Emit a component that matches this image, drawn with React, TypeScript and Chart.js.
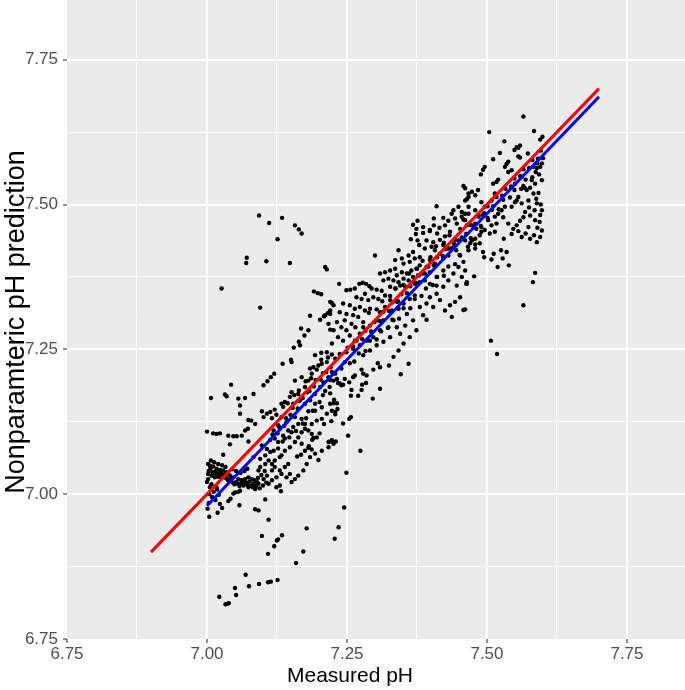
import React, { useEffect, useRef } from 'react';
import { Chart, registerables } from 'chart.js';

Chart.register(...registerables);

const xTitle = 'Measured pH';
const yTitle = 'Nonparamteric pH prediction';

const majorTicks = [6.75, 7.0, 7.25, 7.5, 7.75];
const minorTicks = [6.875, 7.125, 7.375, 7.625];

const identityLine: [number, number][] = [[6.9, 6.9], [7.7, 7.7]];
const fitLine: [number, number][] = [[7.0, 6.98], [7.7, 7.686]];

const lowOutliers: [number, number][] = [
  [7.004,6.961],[7.019,6.968],[7.023,6.983],[7.027,6.976],[7.038,6.988],[7.042,6.992],[7.047,7.001],[7.050,7.003],
  [7.056,7.004],[7.059,7.006],[7.058,6.981],[7.086,6.974],[7.092,6.972],[7.104,6.991],[7.132,7.005],[7.110,6.956],
  [7.098,6.928],[7.134,6.929],[7.127,6.922],[7.125,6.920],[7.120,6.910],[7.109,6.897],[7.178,6.941],[7.172,6.901],
  [7.159,6.881],[7.228,6.923],[7.069,6.861],[7.126,6.852],[7.114,6.849],[7.109,6.848],[7.093,6.845],[7.075,6.841],
  [7.050,6.838],[7.052,6.826],[7.022,6.823],[7.033,6.810],[7.037,6.811],[7.039,6.812],[7.245,6.977],[7.235,6.943]
];

const upperOutliers: [number, number][] = [
  [7.093,7.481],[7.111,7.468],[7.134,7.477],[7.157,7.464],[7.164,7.457],[7.169,7.450],[7.126,7.440],[7.071,7.408],
  [7.070,7.399],[7.106,7.402],[7.148,7.399],[7.211,7.392],[7.214,7.388],[7.026,7.355],[7.095,7.322],[7.191,7.350],
  [7.198,7.347],[7.204,7.345],[7.223,7.330],[7.220,7.317],[7.216,7.313],[7.211,7.309],[7.184,7.308],[7.202,7.301],
  [7.209,7.307],[7.217,7.294],[7.220,7.284],[7.168,7.286],[7.181,7.283],[7.174,7.274],[7.164,7.263],[7.166,7.257],
  [7.155,7.253],[7.150,7.232],[7.193,7.240],[7.204,7.244],[7.214,7.245],[7.223,7.241]
];

const lowBand: [number, number][] = [
  [7.135,7.225],[7.151,7.228],[7.120,7.208],[7.114,7.202],[7.108,7.195],[7.101,7.188],[7.043,7.189],[7.007,7.166],
  [7.032,7.172],[7.035,7.169],[7.056,7.165],[7.068,7.166],[7.083,7.173],[7.059,7.153],[7.059,7.139],[7.074,7.128],
  [7.079,7.127],[7.086,7.121],[7.098,7.143],[7.107,7.139],[7.113,7.142],[7.121,7.146],[7.101,7.133],[7.000,7.108],
  [7.011,7.105],[7.017,7.104],[7.023,7.105],[7.038,7.101],[7.047,7.100],[7.053,7.100],[7.062,7.101],[7.068,7.110],
  [7.073,7.113],[7.074,7.091],[7.041,7.086],[7.029,7.068],[7.098,7.084],[7.107,7.078],[7.113,7.073],[7.119,7.075],
  [7.083,7.064],[7.095,7.061],[7.104,7.067],[7.002,7.052],[7.005,7.049],[7.008,7.047],[7.011,7.048],[7.017,7.044],
  [7.023,7.042],[7.029,7.041],[7.035,7.038],[7.038,7.035],[7.002,7.035],[7.008,7.032],[7.014,7.029],[7.020,7.030],
  [7.026,7.028],[7.000,7.021],[7.008,7.017],[7.017,7.012],[7.041,7.032],[7.047,7.029],[7.056,7.026],[7.062,7.024],
  [7.068,7.026],[7.074,7.029],[7.080,7.026],[7.065,7.015],[7.074,7.012],[7.083,7.018],[7.089,7.021],[7.092,7.041],
  [7.095,7.047],[7.104,7.052],[7.110,7.058],[7.116,7.052],[7.133,7.067],[7.130,7.041],[7.139,7.047],[7.145,7.052],
  [7.157,7.026],[7.148,7.035],[7.199,7.059],[7.175,7.075],[7.181,7.080],[7.187,7.077],[7.217,7.090],[7.223,7.093],
  [7.190,7.097],[7.196,7.098],[7.169,7.107],[7.175,7.113],[7.181,7.110],[7.187,7.104],[7.124,7.012],[7.130,7.015],
  [7.157,7.196],[7.169,7.202],[7.184,7.217],[7.190,7.219],[7.199,7.222],[7.205,7.225],[7.214,7.228],[7.187,7.208],
  [7.181,7.196],[7.175,7.185],[7.163,7.173],[7.151,7.176],[7.148,7.168],[7.139,7.159],[7.133,7.156],[7.154,7.156],
  [7.166,7.162],[7.175,7.156],[7.184,7.162],[7.193,7.173],[7.202,7.185],[7.208,7.193],[7.217,7.202],[7.223,7.211],
  [7.193,7.144],[7.205,7.150],[7.214,7.139],[7.220,7.156],[7.205,7.130],[7.196,7.127],[7.187,7.121],[7.175,7.121],
  [7.169,7.130],[7.157,7.133],[7.142,7.124],[7.133,7.133],[7.127,7.119],[7.119,7.110],[7.121,7.096],[7.127,7.090],
  [7.136,7.101],[7.145,7.110],[7.154,7.116],[7.163,7.098],[7.169,7.087],[7.157,7.090],[7.148,7.081],[7.139,7.075],
  [7.130,7.064],[7.121,7.058],[7.121,7.047],[7.116,7.041],[7.107,7.032],[7.101,7.026],[7.092,7.018],[7.086,7.009],
  [7.110,7.018],[7.116,7.024],[7.124,7.029],[7.133,7.035],[7.142,7.029],[7.151,7.021],[7.163,7.032],[7.172,7.041],
  [7.178,7.052],[7.184,7.064],[7.193,7.070],[7.205,7.075],[7.217,7.081],[7.226,7.087]
];

const lowBlob: [number, number][] = [
  [7.003,7.040],[7.006,7.044],[7.010,7.038],[7.013,7.035],[7.016,7.040],[7.019,7.036],[7.022,7.033],[7.025,7.037],
  [7.028,7.031],[7.031,7.034],[7.034,7.028],[7.037,7.025],[7.040,7.022],[7.043,7.026],[7.046,7.020],[7.049,7.017],
  [7.052,7.021],[7.055,7.018],[7.058,7.014],[7.061,7.019],[7.064,7.022],[7.067,7.017],[7.070,7.020],[7.073,7.016],
  [7.076,7.022],[7.079,7.015],[7.082,7.012],[7.085,7.024],[7.088,7.014],[7.091,7.028],[7.094,7.010],[7.097,7.033],
  [7.100,7.015],[7.103,7.040],[7.106,7.020],[7.002,7.026],[7.005,7.012],[7.004,7.000],[7.009,6.995],[7.012,7.004],
  [7.015,6.990],[7.018,7.008],[7.021,6.999],[7.003,6.985],[7.001,6.975],[7.007,7.058],[7.013,7.055],[7.020,7.052],
  [7.027,7.050],[7.033,7.047],[7.045,7.043],[7.052,7.040],[7.060,7.037],[7.067,7.040],[7.072,7.044]
];

const midBand: [number, number][] = [
  [7.255,7.226],[7.276,7.215],[7.279,7.208],[7.285,7.205],[7.264,7.205],[7.261,7.202],[7.297,7.215],[7.305,7.226],
  [7.309,7.219],[7.325,7.222],[7.360,7.225],[7.346,7.207],[7.309,7.182],[7.296,7.165],[7.284,7.192],[7.277,7.189],
  [7.276,7.180],[7.270,7.170],[7.257,7.170],[7.258,7.180],[7.254,7.193],[7.246,7.199],[7.237,7.191],[7.240,7.188],
  [7.234,7.192],[7.243,7.189],[7.232,7.199],[7.226,7.196],[7.220,7.197],[7.227,7.163],[7.232,7.157],[7.226,7.157],
  [7.223,7.144],[7.229,7.142],[7.233,7.147],[7.220,7.174],[7.257,7.133],[7.254,7.130],[7.243,7.122],[7.252,7.101],
  [7.274,7.075],[7.230,7.091],[7.220,7.091],[7.249,7.037],[7.240,7.217],[7.229,7.208],[7.246,7.228],
  [7.373,7.449],[7.386,7.451],[7.398,7.454],[7.411,7.450],[7.425,7.445],[7.434,7.453],[7.392,7.438],[7.404,7.435],
  [7.416,7.439],[7.376,7.438],[7.364,7.440],[7.379,7.430],[7.389,7.424],[7.401,7.427],[7.407,7.421],[7.422,7.430],
  [7.431,7.424],[7.441,7.432],[7.449,7.438],[7.455,7.443],[7.445,7.421],[7.452,7.412],[7.431,7.412],[7.416,7.415],
  [7.422,7.407],[7.300,7.412],[7.342,7.421],[7.336,7.404],[7.348,7.407],[7.351,7.398],[7.362,7.401],[7.371,7.407],
  [7.368,7.418],[7.360,7.412],[7.380,7.409],[7.398,7.404],[7.407,7.398],[7.392,7.392],[7.380,7.395],
  [7.309,7.381],[7.318,7.383],[7.327,7.386],[7.336,7.389],[7.339,7.378],[7.348,7.383],[7.357,7.381],[7.365,7.386],
  [7.374,7.389],[7.315,7.369],[7.324,7.372],[7.333,7.369],[7.342,7.366],[7.351,7.372],[7.360,7.369],[7.368,7.375],
  [7.377,7.378],[7.327,7.358],[7.336,7.355],[7.345,7.360],[7.354,7.358],[7.362,7.360],[7.371,7.363],[7.380,7.366],
  [7.386,7.381],[7.398,7.383],[7.410,7.375],[7.422,7.386],[7.389,7.369],
  [7.236,7.363],[7.249,7.352],[7.256,7.353],[7.264,7.355],[7.272,7.363],[7.278,7.365],[7.284,7.363],[7.290,7.359],
  [7.294,7.355],[7.303,7.353],[7.312,7.351],[7.282,7.346],[7.267,7.340],[7.276,7.337],[7.288,7.335],[7.297,7.340],
  [7.306,7.337],[7.243,7.329],[7.220,7.332],[7.226,7.326],[7.255,7.326],[7.264,7.320],[7.273,7.323],[7.282,7.317],
  [7.291,7.320],[7.237,7.314],[7.249,7.311],[7.261,7.309],[7.270,7.306],[7.220,7.311],[7.318,7.343],[7.327,7.335],
  [7.339,7.332],[7.318,7.323],[7.330,7.317],[7.309,7.314],[7.342,7.320],[7.351,7.329],[7.362,7.337],[7.371,7.343],
  [7.357,7.311],
  [7.232,7.297],[7.240,7.288],[7.249,7.283],[7.226,7.283],[7.234,7.271],[7.243,7.265],[7.255,7.274],[7.264,7.265],
  [7.273,7.277],[7.279,7.288],[7.291,7.291],[7.285,7.265],[7.273,7.257],[7.261,7.251],[7.249,7.245],[7.237,7.242],
  [7.229,7.234],[7.223,7.260],[7.297,7.271],[7.309,7.283],[7.315,7.300],[7.303,7.257],[7.291,7.248],[7.279,7.240],
  [7.303,7.300],[7.324,7.288],[7.333,7.300],[7.339,7.288],[7.327,7.271],[7.315,7.263],[7.345,7.277],[7.354,7.291],
  [7.258,7.294],[7.246,7.300],
  [7.431,7.369],[7.422,7.358],[7.410,7.346],[7.398,7.340],[7.392,7.329],[7.404,7.323],[7.416,7.335],[7.425,7.317],
  [7.434,7.326],[7.443,7.332],[7.452,7.340],[7.458,7.318],[7.464,7.363],[7.437,7.306],[7.386,7.309],[7.392,7.301],
  [7.380,7.323],[7.368,7.300],[7.374,7.283],[7.362,7.271],[7.351,7.260],[7.342,7.248],[7.333,7.237],[7.398,7.363],
  [7.410,7.360],[7.440,7.381],[7.449,7.392],[7.458,7.401],[7.461,7.386],[7.455,7.375],[7.446,7.360]
];

const lineBandLow: [number, number][] = [
  [7.113,7.094],[7.117,7.103],[7.126,7.105],[7.129,7.116],[7.138,7.118],[7.141,7.131],[7.149,7.137],[7.153,7.149],
  [7.162,7.148],[7.165,7.161],[7.171,7.166],[7.179,7.176],[7.183,7.178],[7.191,7.186],[7.194,7.197],[7.203,7.198],
  [7.207,7.209],[7.213,7.211],[7.221,7.219],[7.127,7.079],[7.135,7.091],[7.139,7.096],[7.147,7.098],[7.151,7.107],
  [7.159,7.109],[7.163,7.121],[7.171,7.122],[7.177,7.131],[7.181,7.143],[7.189,7.144],[7.193,7.156],[7.201,7.159],
  [7.207,7.171],[7.211,7.178],[7.219,7.185],[7.116,7.131],[7.124,7.137],[7.136,7.151],[7.144,7.157],[7.156,7.171],
  [7.164,7.179],[7.176,7.195],[7.186,7.200],[7.196,7.215],[7.204,7.232],[7.216,7.236],[7.161,7.065],[7.168,7.068],
  [7.182,7.083],[7.188,7.094],[7.201,7.105],[7.209,7.121],[7.222,7.126],[7.229,7.138]
];

const lineBandMid: [number, number][] = [
  [7.251,7.253],[7.261,7.255],[7.267,7.265],[7.277,7.268],[7.283,7.282],[7.293,7.281],[7.299,7.297],[7.309,7.299],
  [7.315,7.315],[7.325,7.316],[7.331,7.331],[7.341,7.333],[7.347,7.345],[7.357,7.347],[7.363,7.359],[7.373,7.365],
  [7.379,7.378],[7.389,7.381],[7.395,7.393],[7.405,7.395],[7.411,7.409],[7.421,7.411],[7.427,7.423],[7.437,7.425],
  [7.443,7.439],[7.263,7.229],[7.271,7.243],[7.283,7.247],[7.291,7.265],[7.303,7.267],[7.311,7.281],[7.323,7.287],
  [7.331,7.301],[7.343,7.303],[7.351,7.321],[7.363,7.321],[7.371,7.337],[7.383,7.342],[7.391,7.355],[7.403,7.361],
  [7.411,7.375],[7.423,7.377],[7.431,7.393],[7.443,7.397],[7.451,7.413],[7.265,7.288],[7.279,7.297],[7.289,7.313],
  [7.303,7.319],[7.313,7.333],[7.327,7.342],[7.337,7.355],[7.351,7.361],[7.361,7.381],[7.375,7.389],[7.385,7.403],
  [7.399,7.409],[7.409,7.428],[7.423,7.434],[7.433,7.447]
];

const highBand: [number, number][] = [
  [7.458,7.532],[7.461,7.528],[7.410,7.497],[7.376,7.472],[7.368,7.465],[7.405,7.476],[7.422,7.477],[7.437,7.484],
  [7.449,7.496],[7.464,7.509],[7.467,7.519],[7.431,7.472],[7.415,7.460],[7.405,7.464],[7.446,7.467],[7.458,7.474],
  [7.440,7.490],[7.455,7.487],[7.374,7.458],[7.386,7.461],[7.398,7.456],[7.425,7.464],[7.443,7.476],[7.455,7.479],
  [7.464,7.464],[7.452,7.458],[7.467,7.496],[7.461,7.484],
  [7.565,7.652],[7.504,7.625],[7.584,7.627],[7.599,7.617],[7.595,7.612],[7.531,7.609],[7.559,7.602],[7.553,7.599],
  [7.556,7.598],[7.523,7.589],[7.549,7.594],[7.573,7.588],[7.556,7.583],[7.559,7.581],[7.511,7.578],[7.538,7.574],
  [7.535,7.570],[7.496,7.565],[7.493,7.560],[7.489,7.552],[7.532,7.565],[7.538,7.556],[7.544,7.559],[7.520,7.543],
  [7.517,7.539],[7.511,7.536],[7.583,7.565],[7.590,7.571],[7.595,7.565],[7.598,7.571],[7.587,7.556],[7.593,7.552],
  [7.580,7.542],[7.586,7.536],[7.577,7.529],[7.568,7.528],[7.571,7.525],[7.565,7.532],[7.598,7.542],[7.583,7.519],
  [7.574,7.507],[7.589,7.502],[7.596,7.500],[7.577,7.481],[7.568,7.487],[7.565,7.478],[7.556,7.513],[7.553,7.507],
  [7.550,7.504],[7.532,7.496],[7.526,7.490],[7.520,7.484],[7.529,7.478],[7.538,7.467],[7.547,7.458],[7.559,7.472],
  [7.484,7.525],[7.479,7.516],[7.473,7.522],[7.467,7.513],[7.461,7.507],[7.490,7.504],[7.496,7.496],[7.461,7.473],
  [7.473,7.464],[7.508,7.507],[7.514,7.519],[7.550,7.536],[7.544,7.530],[7.562,7.548],
  [7.467,7.484],[7.479,7.490],[7.485,7.479],[7.493,7.482],[7.502,7.473],[7.508,7.464],[7.490,7.461],[7.514,7.479],
  [7.517,7.467],[7.553,7.464],[7.574,7.461],[7.586,7.473],[7.595,7.482],[7.598,7.490],[7.544,7.496],[7.562,7.502],
  [7.530,7.441],[7.562,7.444],[7.569,7.450],[7.584,7.447],[7.556,7.454],[7.493,7.418],[7.495,7.409],[7.512,7.415],
  [7.508,7.405],[7.525,7.421],[7.535,7.418],[7.528,7.407],[7.519,7.392],[7.539,7.395],[7.477,7.376],[7.464,7.366],
  [7.463,7.363],[7.586,7.382],[7.582,7.366],[7.565,7.326],[7.507,7.265],[7.518,7.242],[7.461,7.319],[7.470,7.433],
  [7.473,7.438],[7.479,7.441],[7.487,7.447],[7.490,7.453],[7.466,7.427],[7.479,7.431],[7.487,7.433],
  [7.496,7.456],[7.505,7.450],[7.514,7.453],[7.544,7.449],[7.577,7.441],[7.589,7.435],[7.595,7.444],[7.461,7.438],
  [7.467,7.421],[7.479,7.424]
];

const lineBandHigh: [number, number][] = [
  [7.463,7.449],[7.469,7.465],[7.479,7.467],[7.485,7.481],[7.495,7.485],[7.501,7.497],[7.511,7.497],[7.517,7.513],
  [7.527,7.515],[7.533,7.527],[7.543,7.531],[7.549,7.545],[7.559,7.549],[7.565,7.561],[7.575,7.563],[7.581,7.577],
  [7.591,7.579],[7.596,7.593],[7.471,7.442],[7.481,7.458],[7.489,7.463],[7.501,7.477],[7.509,7.491],[7.521,7.492],
  [7.529,7.508],[7.541,7.512],[7.549,7.525],[7.561,7.527],[7.569,7.543],[7.581,7.547],[7.589,7.563],[7.592,7.520],
  [7.588,7.510],[7.594,7.470],[7.590,7.460],[7.598,7.455],[7.585,7.490],[7.575,7.495],[7.600,7.580]
];

const pointGroups = [
  lowOutliers, upperOutliers, lowBand, lowBlob, midBand, lineBandLow, lineBandMid, highBand, lineBandHigh,
];

const isMajor = (v: number) => majorTicks.some((m) => Math.abs(m - v) < 1e-6);
const FONT = '"Liberation Sans", Arial, Helvetica, sans-serif';

const panelPlugin = {
  id: 'panelPlugin',
  beforeDraw(chart: any) {
    const { ctx, chartArea } = chart;
    ctx.save();
    ctx.fillStyle = '#EBEBEB';
    ctx.fillRect(chartArea.left, chartArea.top, chartArea.right - chartArea.left, chartArea.bottom - chartArea.top);
    ctx.restore();
  },
  afterDraw(chart: any) {
    const { ctx } = chart;
    ctx.save();
    ctx.fillStyle = '#000000';
    ctx.textAlign = 'center';
    ctx.textBaseline = 'alphabetic';
    ctx.font = `21px ${FONT}`;
    ctx.fillText(xTitle, 350, 682);
    ctx.font = `27px ${FONT}`;
    ctx.translate(24, 322);
    ctx.rotate(-Math.PI / 2);
    ctx.fillText(yTitle, 0, 0);
    ctx.restore();
  },
};

function axisOptions(min: number, max: number, isX: boolean) {
  const allTicks = [...majorTicks, ...minorTicks].sort((a, b) => a - b);
  return {
    type: 'linear' as const,
    min,
    max,
    afterBuildTicks: (scale: any) => {
      scale.ticks = allTicks.filter((v) => v >= min - 1e-9 && v <= max + 1e-9).map((v) => ({ value: v }));
    },
    afterFit: (scale: any) => {
      if (isX) scale.height = 51;
      else scale.width = 67;
      scale.paddingTop = 0;
      scale.paddingBottom = 0;
      scale.paddingLeft = 0;
      scale.paddingRight = 0;
    },
    border: { display: false },
    grid: {
      drawOnChartArea: true,
      drawTicks: true,
      tickLength: 4,
      color: (ctx: any) => {
        const v = ctx.tick ? ctx.tick.value : 0;
        if (Math.abs(v - 6.75) < 1e-6) return 'rgba(0,0,0,0)';
        return '#FFFFFF';
      },
      lineWidth: (ctx: any) => (ctx.tick && isMajor(ctx.tick.value) ? 2 : 1),
      tickColor: (ctx: any) => (ctx.tick && isMajor(ctx.tick.value) ? '#333333' : 'rgba(0,0,0,0)'),
      tickWidth: 1.1,
    },
    ticks: {
      autoSkip: false,
      maxRotation: 0,
      minRotation: 0,
      padding: isX ? 1 : 5,
      color: '#4D4D4D',
      font: { family: FONT, size: 17 },
      callback: (v: any) => (isMajor(Number(v)) ? Number(v).toFixed(2) : ''),
    },
  };
}

export default function App() {
  const canvasRef = useRef<HTMLCanvasElement | null>(null);

  useEffect(() => {
    if (!canvasRef.current) return;
    const points = pointGroups.flat().map(([x, y]) => ({ x, y }));
    const chart = new Chart(canvasRef.current, {
      type: 'scatter',
      data: {
        datasets: [
          {
            type: 'line',
            data: identityLine.map(([x, y]) => ({ x, y })),
            borderColor: '#FF0000',
            borderWidth: 3,
            pointRadius: 0,
            fill: false,
          } as any,
          {
            type: 'line',
            data: fitLine.map(([x, y]) => ({ x, y })),
            borderColor: '#0000FF',
            borderWidth: 3,
            pointRadius: 0,
            fill: false,
          } as any,
          {
            data: points,
            backgroundColor: '#000000',
            borderWidth: 0,
            pointRadius: 2.2,
          },
        ],
      },
      options: {
        animation: false,
        responsive: false,
        maintainAspectRatio: false,
        layout: { padding: 0, autoPadding: false },
        plugins: { legend: { display: false }, tooltip: { enabled: false }, title: { display: false } },
        scales: {
          x: axisOptions(6.75, 7.8536, true),
          y: axisOptions(6.75, 7.853, false),
        },
      },
      plugins: [panelPlugin],
    });
    return () => chart.destroy();
  }, []);

  return (
    <div style={{ position: 'absolute', left: 0, top: 0, width: 685, height: 690, background: '#FFFFFF' }}>
      <canvas ref={canvasRef} width={685} height={690} style={{ width: 685, height: 690, display: 'block' }} />
    </div>
  );
}
